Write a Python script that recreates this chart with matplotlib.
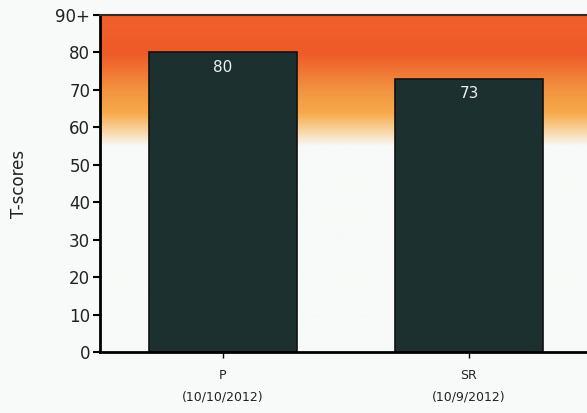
import matplotlib
matplotlib.use("Agg")
import matplotlib.pyplot as plt
import numpy as np
from matplotlib.colors import LinearSegmentedColormap

# data
categories = ["P\n(10/10/2012)", "SR\n(10/9/2012)"]
scores = [80, 73]
yticks = [0, 10, 20, 30, 40, 50, 60, 70, 80, 90]
ytick_labels = ["0", "10", "20", "30", "40", "50", "60", "70", "80", "90+"]

bg = "#f7faf8"
fig = plt.figure(figsize=(5.87, 4.13), dpi=100, facecolor=bg)
ax = fig.add_axes([100 / 587, (413 - 352) / 413, 487 / 587, 337 / 413])
ax.set_facecolor(bg)

# background gradient (white below ~55, orange to red-orange toward the top)
stops = [(0.0, bg), (55 / 90, bg), (59 / 90, "#f9d6a8"),
         (64 / 90, "#f6aa4a"), (70 / 90, "#f29440"), (80 / 90, "#ee5a28"), (1.0, "#f0602e")]
cmap = LinearSegmentedColormap.from_list("tscore", stops)
grad = np.linspace(0, 1, 400).reshape(-1, 1)
ax.imshow(grad, cmap=cmap, aspect="auto", origin="lower",
          extent=[-0.5, 1.48, 0, 90], zorder=0)

x = np.arange(len(categories))
bars = ax.bar(x, scores, width=0.6, color="#1c3030", edgecolor="#111111",
              linewidth=1.2, zorder=2)
for xi, s in zip(x, scores):
    ax.text(xi, s - 2.0, str(s), ha="center", va="top", color="#eef2f0",
            fontsize=11, zorder=3)

ax.set_xlim(-0.5, 1.48)
ax.set_ylim(0, 90)
ax.set_xticks(x)
ax.set_xticklabels(categories, fontsize=9, color="#222222", linespacing=1.9)
ax.set_yticks(yticks)
ax.set_yticklabels(ytick_labels, fontsize=12, color="#222222")
ax.set_ylabel("T-scores", fontsize=12, color="#222222", labelpad=20)

ax.spines["right"].set_visible(False)
ax.spines["left"].set_linewidth(2)
ax.spines["bottom"].set_linewidth(2)
ax.spines["top"].set_linewidth(1.5)
ax.spines["top"].set_color("#3a2a20")
ax.tick_params(axis="y", length=5, width=1.5, pad=2)
ax.tick_params(axis="x", length=4, width=1, pad=8)

fig.savefig("out.png", dpi=100, facecolor=bg)
